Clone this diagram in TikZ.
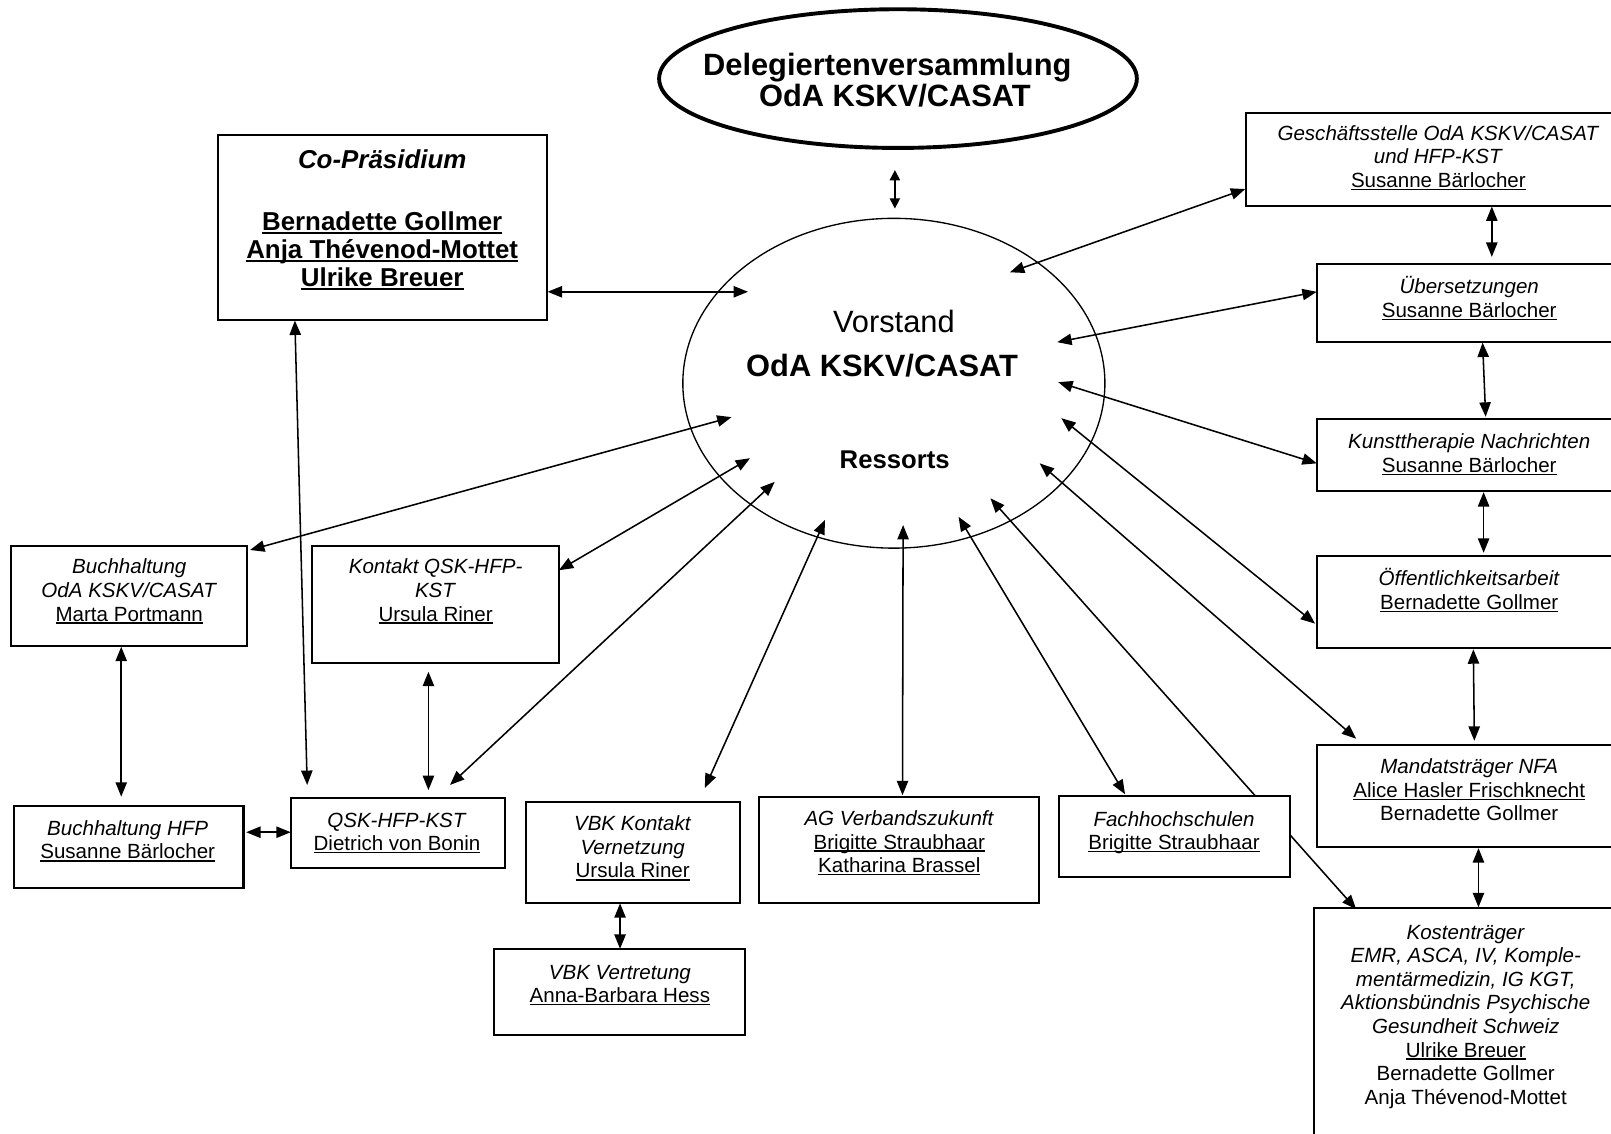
\documentclass[tikz,border=0pt]{standalone}
\usepackage{fontspec}
\setmainfont{Liberation Sans}
\usetikzlibrary{arrows.meta,shapes.geometric,fit,backgrounds}
\newcommand\uln[1]{\setbox0\hbox{#1}\rlap{\rule[-0.13em]{\wd0}{0.07em}}\box0}
\newcommand\tb[1]{\begin{tabular}[t]{@{}c@{}}#1\end{tabular}}
\begin{document}
\begin{tikzpicture}[x=0.5pt,y=-0.5pt,
  bx/.style={draw,line width=1pt,fill=white,inner sep=0pt,rectangle},
  txt/.style={anchor=base,inner sep=0pt,font=\fontsize{10}{11.5}\selectfont},
  arr/.style={{Triangle[length=7pt,width=5.5pt]}-{Triangle[length=7pt,width=5.5pt]},line width=0.75pt},
  sarr/.style={{Triangle[length=5pt,width=5pt]}-{Triangle[length=5pt,width=5pt]},line width=0.75pt}]
\useasboundingbox (0,0) rectangle (1568,1102.8);
\clip (0,0) rectangle (1568,1102.8);

% ellipses
\node[draw,ellipse,line width=1.9pt,fill=white,inner sep=0pt,minimum width=232.5pt,minimum height=67.5pt] (dv) at (874,76.5) {};
\node[anchor=base,inner sep=0pt,font=\fontsize{15}{18}\selectfont\bfseries] (dv1) at (863.6,73) {Delegiertenversammlung};
\node[anchor=base,inner sep=0pt,font=\fontsize{15}{18}\selectfont\bfseries] (dv2) at (871,103.8) {OdA KSKV/CASAT};

\node[draw,ellipse,line width=0.65pt,inner sep=0pt,minimum width=205.4pt,minimum height=160.5pt] (vs) at (870,373) {};
\node[anchor=base,inner sep=0pt,font=\fontsize{15}{18}\selectfont] (vs1) at (870,324) {Vorstand};
\node[anchor=base,inner sep=0pt,font=\fontsize{15}{18}\selectfont\bfseries] (vs2) at (858.5,366.6) {OdA KSKV/CASAT};
\node[anchor=base,inner sep=0pt,font=\fontsize{12.5}{15}\selectfont\bfseries] (vs3) at (870.8,455.6) {Ressorts};

% boxes
\node[bx,fit={(212,131) (532,311)}] (cop) {};
\node[bx,fit={(1213,110) (1600,200.5)}] (gs) {};
\node[bx,fit={(1281.6,257) (1600,332.6)}] (ue) {};
\node[bx,fit={(1281.6,408) (1600,478)}] (kn) {};
\node[bx,fit={(1281.6,541) (1600,631)}] (oe) {};
\node[bx,fit={(1282,725) (1600,824)}] (md) {};
\node[bx,fit={(1278.6,884) (1600,1130)}] (kt) {};
\node[bx,fit={(1031,775) (1256,854)}] (fh) {};
\node[bx,fit={(739,775.4) (1011,878.6)}] (ag) {};
\node[bx,fit={(512.4,780.3) (720.3,878.6)}] (vk) {};
\node[bx,fit={(481,924) (725,1007.4)}] (vv) {};
\node[bx,fit={(283.4,776.8) (491.7,844.5)}] (qsk) {};
\node[bx,fit={(304,531) (544,645)}] (kq) {};
\node[bx,fit={(11,531) (240,629)}] (bo) {};
\node[bx,fit={(13.2,784.5) (237,864)}] (bh) {};

% texts
\node[anchor=base,inner sep=0pt,font=\fontsize{12.6}{13.8}\selectfont\bfseries\itshape] (cop-t1) at (372,164) {Co-Präsidium};
\node[anchor=base,inner sep=0pt,font=\fontsize{12.6}{13.8}\selectfont\bfseries] (cop-t2) at (372,224)
  {\tb{\uln{Bernadette Gollmer}\\\uln{Anja Thévenod-Mottet}\\\uln{Ulrike Breuer}}};
\node[txt] (gs-t) at (1400,136.6) {\tb{\textit{Geschäftsstelle OdA KSKV/CASAT}\\\textit{und HFP-KST}\\\uln{Susanne Bärlocher}}};
\node[txt] (ue-t) at (1430,286) {\tb{\textit{Übersetzungen}\\\uln{Susanne Bärlocher}}};
\node[txt] (kn-t) at (1430,437) {\tb{\textit{Kunsttherapie Nachrichten}\\\uln{Susanne Bärlocher}}};
\node[txt] (oe-t) at (1430,570) {\tb{\textit{Öffentlichkeitsarbeit}\\\uln{Bernadette Gollmer}}};
\node[txt] (md-t) at (1430,753) {\tb{\textit{Mandatsträger NFA}\\\uln{Alice Hasler Frischknecht}\\Bernadette Gollmer}};
\node[txt] (kt-t) at (1426.6,914) {\tb{\textit{Kostenträger}\\\textit{EMR, ASCA, IV, Komple-}\\\textit{mentärmedizin, IG KGT,}\\\textit{Aktionsbündnis Psychische}\\\textit{Gesundheit Schweiz}\\\uln{Ulrike Breuer}\\Bernadette Gollmer\\Anja Thévenod-Mottet}};
\node[txt] (fh-t) at (1142.7,804) {\tb{\textit{Fachhochschulen}\\\uln{Brigitte Straubhaar}}};
\node[txt] (ag-t) at (875.3,803.5) {\tb{\textit{AG Verbandszukunft}\\\uln{Brigitte Straubhaar}\\\uln{Katharina Brassel}}};
\node[txt] (vk-t) at (615.8,808.4) {\tb{\textit{VBK Kontakt}\\\textit{Vernetzung}\\\uln{Ursula Riner}}};
\node[txt] (vv-t) at (603.3,953) {\tb{\textit{VBK Vertretung}\\\uln{Anna-Barbara Hess}}};
\node[txt] (qsk-t) at (386.4,805) {\tb{\textit{QSK-HFP-KST}\\\uln{Dietrich von Bonin}}};
\node[txt] (kq-t) at (424,558.6) {\tb{\textit{Kontakt QSK-HFP-}\\\textit{KST}\\\uln{Ursula Riner}}};
\node[txt] (bo-t) at (125.8,558.6) {\tb{\textit{Buchhaltung}\\\textit{OdA KSKV/CASAT}\\\uln{Marta Portmann}}};
\node[txt] (bh-t) at (124.3,813) {\tb{\textit{Buchhaltung HFP}\\\uln{Susanne Bärlocher}}};

% connector end points
\coordinate (dv-s) at (871,165.5);
\coordinate (vs-n) at (871,203);
\coordinate (v-gs) at (983,265);   \coordinate (gs-v) at (1212,184);
\coordinate (v-ue) at (1029,333);  \coordinate (ue-v) at (1281.6,284);
\coordinate (v-kn) at (1030,372);  \coordinate (kn-v) at (1281.6,451);
\coordinate (v-oe) at (1033,407);  \coordinate (oe-v) at (1280,607);
\coordinate (v-md) at (1012,451);  \coordinate (md-v) at (1320,719);
\coordinate (v-kt) at (964,485);   \coordinate (kt-v) at (1320,885);
\coordinate (v-fh) at (933,503);   \coordinate (fh-v) at (1095,773);
\coordinate (v-ag) at (879,511);   \coordinate (ag-v) at (878.4,774);
\coordinate (v-vk) at (803,506);   \coordinate (vk-v) at (686,767);
\coordinate (v-qsk) at (754,469);  \coordinate (qsk-v) at (438,764);
\coordinate (v-kq) at (730,446);   \coordinate (kq-v) at (544,555);
\coordinate (v-bo) at (712,406);   \coordinate (bo-v) at (243.4,535.3);
\coordinate (v-cop) at (728,284);  \coordinate (cop-v) at (533,284);
\coordinate (cop-q) at (287,312);  \coordinate (q-cop) at (299,764);
\coordinate (gs-ue) at (1452,201); \coordinate (ue-gs) at (1452,250);
\coordinate (ue-kn) at (1443,333.5); \coordinate (kn-ue) at (1446,405.6);
\coordinate (kn-oe) at (1444,479); \coordinate (oe-kn) at (1444,538);
\coordinate (oe-md) at (1434,632); \coordinate (md-oe) at (1435,721);
\coordinate (md-kt) at (1439,825.5); \coordinate (kt-md) at (1439,883);
\coordinate (kq-q) at (417,653.8); \coordinate (q-kq) at (417,769);
\coordinate (bo-bh) at (118,629.5); \coordinate (bh-bo) at (118,775.4);
\coordinate (bh-q) at (239.6,810); \coordinate (q-bh) at (283,810);
\coordinate (vk-vv) at (603.5,879.2); \coordinate (vv-vk) at (603.5,923.5);

\begin{scope}[on background layer]
\draw[sarr] (dv-s) -- (vs-n);
\draw[arr] (v-gs) -- (gs-v);
\draw[arr] (v-ue) -- (ue-v);
\draw[arr] (v-kn) -- (kn-v);
\draw[arr] (v-oe) -- (oe-v);
\draw[arr] (v-md) -- (md-v);
\draw[arr] (v-kt) -- (kt-v);
\draw[arr] (v-fh) -- (fh-v);
\draw[arr] (v-ag) -- (ag-v);
\draw[arr] (v-vk) -- (vk-v);
\draw[arr] (v-qsk) -- (qsk-v);
\draw[arr] (v-kq) -- (kq-v);
\draw[arr] (v-bo) -- (bo-v);
\draw[arr] (v-cop) -- (cop-v);
\draw[arr] (cop-q) -- (q-cop);
\draw[arr] (gs-ue) -- (ue-gs);
\draw[arr] (ue-kn) -- (kn-ue);
\draw[arr] (kn-oe) -- (oe-kn);
\draw[arr] (oe-md) -- (md-oe);
\draw[arr] (md-kt) -- (kt-md);
\draw[arr] (kq-q) -- (q-kq);
\draw[arr] (bo-bh) -- (bh-bo);
\draw[arr] (bh-q) -- (q-bh);
\draw[arr] (vk-vv) -- (vv-vk);
\end{scope}
\end{tikzpicture}
\end{document}
